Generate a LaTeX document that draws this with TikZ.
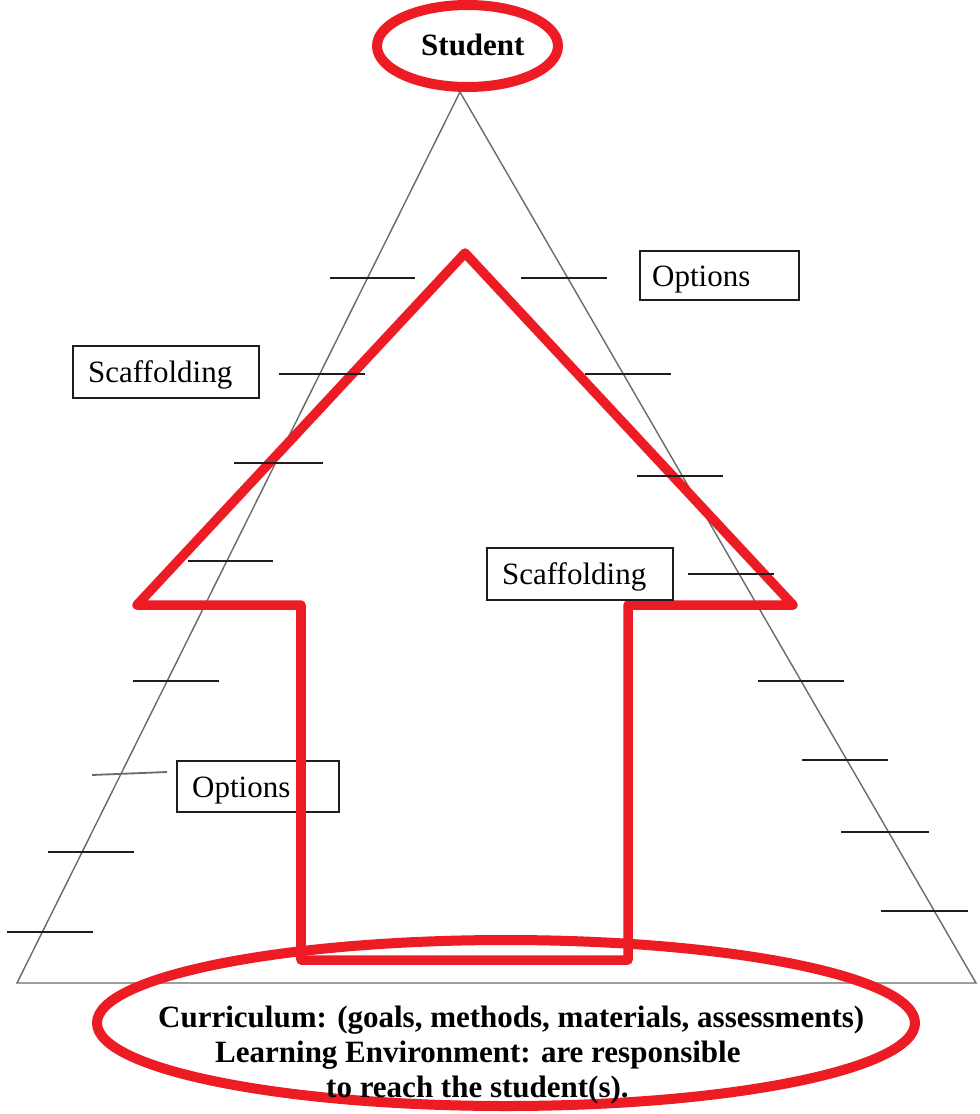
\documentclass[tikz,border=0pt]{standalone}
\usepackage{fontspec}
\setmainfont{Liberation Serif}
\usetikzlibrary{shapes.geometric}
\definecolor{wred}{HTML}{ED1C24}
\definecolor{trigray}{HTML}{6A6A6A}
\definecolor{tickblack}{HTML}{1E1E1E}
\begin{document}
\begin{tikzpicture}[x=1pt,y=-1pt,
  triline/.style={draw=trigray,line width=1.4pt},
  tickline/.style={draw=tickblack,line width=1.8pt},
  redline/.style={draw=wred,line width=9.5pt,line join=round},
  redring/.style={ellipse,draw=wred,line width=10pt,inner sep=0pt},
  boxframe/.style={draw=tickblack,line width=1.6pt,inner sep=0pt},
  boxtext/.style={font=\fontsize{31}{36}\selectfont,inner sep=0pt,anchor=base west},
  boldtext/.style={font=\fontsize{31}{36}\selectfont\bfseries,inner sep=0pt,anchor=base west}]
\useasboundingbox (0,0) rectangle (980,1114);
\fill[white] (0,0) rectangle (980,1114);
% triangle
\coordinate (apex) at (460,92);
\coordinate (bl) at (17,983);
\coordinate (br) at (976,983);
\draw[triline] (bl) -- (apex) -- (br) -- cycle;
% red arrow
\coordinate (ap) at (465,253);
\coordinate (rw) at (793,605);
\coordinate (rs) at (628,605);
\coordinate (rb) at (628,960);
\coordinate (lb) at (301,960);
\coordinate (ls) at (301,605);
\coordinate (lw) at (137,605);
\draw[redline] (ap) -- (rw) -- (rs) -- (rb) -- (lb) -- (ls) -- (lw) -- cycle;
% ticks left
\draw[tickline] (330,278) -- (415,278);
\draw[tickline] (279,374) -- (365,374);
\draw[tickline] (234,463) -- (323,463);
\draw[tickline] (188,561) -- (273,561);
\draw[tickline] (133,681) -- (219,681);
\draw[tickline,draw=trigray] (92,775) -- (167,772);
\draw[tickline] (48,852) -- (134,852);
\draw[tickline] (7,932) -- (93,932);
% ticks right
\draw[tickline] (521,278) -- (607,278);
\draw[tickline] (585,374) -- (671,374);
\draw[tickline] (637,476) -- (723,476);
\draw[tickline] (688,574) -- (774,574);
\draw[tickline] (758,681) -- (844,681);
\draw[tickline] (802,760) -- (888,760);
\draw[tickline] (841,832) -- (929,832);
\draw[tickline] (881,911) -- (968,911);
% boxes
\node[boxframe,minimum width=159pt,minimum height=49pt] (optA) at (719.5,275.5) {};
\node[boxtext] (optAt) at (652,286) {Options};
\node[boxframe,minimum width=186pt,minimum height=52pt] (scaB) at (166,372) {};
\node[boxtext] (scaBt) at (88,382) {Scaffolding};
\node[boxframe,minimum width=186pt,minimum height=52pt] (scaC) at (580,574) {};
\node[boxtext] (scaCt) at (502,584) {Scaffolding};
\node[boxframe,minimum width=162pt,minimum height=51pt] (optD) at (258,786.5) {};
\node[boxtext] (optDt) at (192,797) {Options};
% red lines crossing the lower options box drawn again on top
\draw[redline] (ls) -- (lb);
% student
\node[redring,minimum width=181pt,minimum height=82pt] (student) at (467.5,46) {};
\node[boldtext] (studentt) at (421,55) {Student};
% environment
\node[redring,minimum width=818pt,minimum height=166pt] (env) at (506,1023) {};
\node[boldtext] (envA) at (158,1027) {Curriculum: (goals, methods, materials, assessments)};
\node[boldtext] (envB) at (215,1062) {Learning Environment: are responsible};
\node[boldtext] (envC) at (326,1097) {to reach the student(s).};
\end{tikzpicture}
\end{document}
